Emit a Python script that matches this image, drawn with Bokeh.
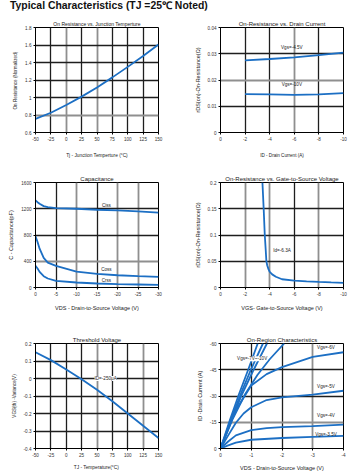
from bokeh.plotting import figure
from bokeh.models import Range1d, FixedTicker, Grid, Label, Div, CustomJSTickFormatter
from bokeh.layouts import column, row
from bokeh.embed import file_html
from bokeh.resources import INLINE

BLUE = "#1c6fc4"
FONT = "Liberation Sans"
DARK = "#1e1e1e"
GRAY = "#8f8f8f"

MAIN_TITLE = "Typical Characteristics (TJ =25\u2103 Noted)"

# ---- Panel 1: On Resistance vs. Junction Temperture
p1_temp = [-50, -25, 0, 25, 50, 75, 100, 125, 150]
p1_ron = [0.755, 0.826, 0.915, 1.01, 1.115, 1.23, 1.35, 1.475, 1.605]
p1_xticks = [-50, -25, 0, 25, 50, 75, 100, 125, 150]
p1_yticks = [0.6, 0.8, 1.0, 1.2, 1.4, 1.6, 1.8]

# ---- Panel 2: On-Resistance vs. Drain Current
p2_id = [-2, -4, -6, -8, -10]
p2_r45 = [0.0275, 0.0280, 0.0286, 0.0295, 0.0304]
p2_r10 = [0.0146, 0.0145, 0.0143, 0.0145, 0.0150]
p2_xticks = [0, -2, -4, -6, -8, -10]
p2_yticks = [0, 0.01, 0.02, 0.03, 0.04]

# ---- Panel 3: Capacitance
p3_vds = [0, -0.5, -1, -2, -3, -5, -10, -15, -20, -25, -30]
p3_ciss = [1327, 1300, 1276, 1240, 1225, 1210, 1200, 1185, 1175, 1160, 1140]
p3_coss = [780, 694, 592, 450, 380, 329, 243, 208, 187, 172, 162]
p3_crss = [329, 289, 238, 172, 137, 101, 76, 61, 51, 46, 41]
p3_xticks = [0, -5, -10, -15, -20, -25, -30]
p3_yticks = [0, 400, 800, 1200, 1600]

# ---- Panel 4: On-Resistance vs. Gate-to-Source Voltage
p4_vgs = [-3.41, -3.51, -3.6, -3.68, -3.73, -3.8, -3.9, -4.0, -4.2, -4.5, -5, -6, -7, -8, -9, -10]
p4_r = [0.2, 0.15, 0.1, 0.07, 0.05, 0.042, 0.035, 0.030, 0.025, 0.0205, 0.0157, 0.013, 0.0118, 0.0107, 0.0097, 0.0088]
p4_xticks = [0, -2, -4, -6, -8, -10]
p4_yticks = [0, 0.05, 0.1, 0.15, 0.2]

# ---- Panel 5: Threshold Voltage
p5_temp = [-50, -25, 0, 25, 50, 75, 100, 125, 150]
p5_dv = [0.15, 0.105, 0.052, -0.004, -0.064, -0.13, -0.2, -0.27, -0.34]
p5_xticks = [-50, -25, 0, 25, 50, 75, 100, 125, 150]
p5_yticks = [-0.4, -0.3, -0.2, -0.1, 0, 0.1, 0.2]

# ---- Panel 6: On-Region Characteristics
p6_v35 = [0, -0.25, -0.5, -1, -2, -3, -4]
p6_i35 = [0, -1.8, -3.3, -5.0, -6.0, -6.6, -7.2]
p6_v4 = [0, -0.25, -0.5, -1, -1.5, -2, -3, -4]
p6_i4 = [0, -4.0, -7.5, -10.5, -11.6, -12.2, -12.8, -13.6]
p6_v5 = [0, -0.25, -0.5, -0.75, -1, -1.5, -2, -3, -4]
p6_i5 = [0, -7.5, -14.7, -20, -23.6, -27.7, -29.2, -30.8, -33.0]
p6_v6 = [0, -0.25, -0.5, -1, -1.5, -2, -3, -4]
p6_i6 = [0, -11, -22.0, -36.0, -42.5, -46.5, -52.3, -55.0]
p6_v7 = [0, -0.4, -0.8, -1.2, -1.6, -2.07]
p6_i7 = [0, -17, -31, -42, -51, -60]
p6_v8 = [0, -0.35, -0.7, -1.05, -1.51]
p6_i8 = [0, -16, -31, -44, -60]
p6_v9 = [0, -0.35, -0.7, -1.0, -1.38]
p6_i9 = [0, -17, -33, -45.5, -60]
p6_v10 = [0, -0.3, -0.6, -0.9, -1.21]
p6_i10 = [0, -16, -31, -45, -60]
p6_xticks = [0, -1, -2, -3, -4]
p6_yticks = [0, -15, -30, -45, -60]

FMT = "return String(Number(tick.toFixed(4)));"


def make(title, xr, yr, xticks, yticks, xlabel, ylabel, left, right, top, bottom,
         fh, xdark, xgray, ydark, ygray, title_size="6px", xl_size="5.5px",
         yl_size="5.5px", tick_size="4.6px", xl_standoff=6):
    p = figure(frame_width=123, frame_height=fh,
               x_range=Range1d(*xr), y_range=Range1d(*yr),
               output_backend="svg", toolbar_location=None,
               min_border_left=left, min_border_right=right,
               min_border_top=top, min_border_bottom=bottom)
    p.title.text = title
    p.title.align = "center"
    p.title.text_font = FONT
    p.title.text_font_size = title_size
    p.title.text_font_style = "normal"
    p.title.text_color = "#222222"
    p.title.standoff = 2
    p.outline_line_color = "black"
    p.outline_line_width = 1
    p.outline_line_alpha = 1
    p.xgrid.visible = False
    p.ygrid.visible = False
    for ticks, col, w, dim in ((xdark, DARK, 1.3, 0), (xgray, GRAY, 1.8, 0),
                               (ydark, DARK, 1.3, 1), (ygray, GRAY, 1.8, 1)):
        if ticks:
            p.add_layout(Grid(dimension=dim, ticker=FixedTicker(ticks=ticks),
                              grid_line_color=col, grid_line_width=w))
    for ax, ticks, lab, lsize in ((p.xaxis[0], xticks, xlabel, xl_size),
                                  (p.yaxis[0], yticks, ylabel, yl_size)):
        ax.ticker = FixedTicker(ticks=ticks, minor_ticks=[])
        ax.formatter = CustomJSTickFormatter(code=FMT)
        ax.axis_label = lab
        ax.axis_label_text_font = FONT
        ax.axis_label_text_font_size = lsize
        ax.axis_label_text_font_style = "normal"
        ax.axis_label_text_color = "#222222"
        ax.major_label_text_font = FONT
        ax.major_label_text_font_size = tick_size
        ax.major_label_text_color = "#333333"
        ax.major_label_standoff = 2
        ax.major_tick_out = 2
        ax.major_tick_in = 0
        ax.minor_tick_out = 0
        ax.minor_tick_in = 0
        ax.axis_line_color = "black"
    p.xaxis[0].axis_label_standoff = xl_standoff
    p.yaxis[0].axis_label_standoff = 4
    return p


def label(p, x, y, text, bg=None, size="4.6px", align="center"):
    lb = Label(x=x, y=y, text=text, text_font=FONT, text_font_size=size,
               text_align=align, text_baseline="middle", text_color="#222222")
    if bg:
        lb.background_fill_color = bg
        lb.background_fill_alpha = 1
    p.add_layout(lb)


LW = 1.8

header = Div(text=MAIN_TITLE, width=350, height=10, margin=(0, 0, 0, 10),
             styles={"font-family": FONT, "font-size": "10.4px",
                     "font-weight": "bold", "color": "#111111",
                     "line-height": "11px", "white-space": "nowrap"})

# Panel 1
p1 = make("On Resistance vs. Junction Temperture", (-50, 150), (0.6, 1.8),
          p1_xticks, p1_yticks, "Tj - Junction Temperture (\u00b0C)",
          "On Resistance  (Normalized)", 35, 22, 17, 30, 105,
          [-25, 25, 75, 100, 125], [0, 50], [1.0, 1.2, 1.4, 1.6], [0.8],
          title_size="5px", xl_size="4.8px", yl_size="4.6px", xl_standoff=9)
p1.line(p1_temp, p1_ron, color=BLUE, line_width=LW)

# Panel 2
p2 = make("On-Resistance vs. Drain Current", (0, -10), (0, 0.04),
          p2_xticks, p2_yticks, "ID - Drain Current (A)",
          "rDS(on)-On-Resistance(\u03a9)", 40, 17, 17, 30, 105,
          [-2, -4, -8], [-6], [0.01, 0.03], [0.02], xl_size="4.6px", xl_standoff=9)
p2.line(p2_id, p2_r45, color=BLUE, line_width=LW)
p2.line(p2_id, p2_r10, color=BLUE, line_width=LW)
label(p2, -5.8, 0.0325, "Vgs=-4.5V")
label(p2, -5.8, 0.0182, "Vgs=-10V")

# Panel 3
p3 = make("Capacitance", (0, -30), (0, 1600), p3_xticks, p3_yticks,
          "VDS - Drain-to-Source Voltage (V)", "C - Capacitance(pF)",
          35, 22, 20, 26, 105, [-5, -15], [-10, -20, -25], [800, 1200], [400])
p3.line(p3_vds, p3_ciss, color=BLUE, line_width=LW)
p3.line(p3_vds, p3_coss, color=BLUE, line_width=LW)
p3.line(p3_vds, p3_crss, color=BLUE, line_width=LW)
label(p3, -17.3, 1250, "Ciss")
label(p3, -17.3, 268, "Coss")
label(p3, -17.3, 111, "Crss")

# Panel 4
p4 = make("On-Resistance vs. Gate-to-Source Voltage", (0, -10), (0, 0.2),
          p4_xticks, p4_yticks, "VGS- Gate-to-Source Voltage (V)",
          "rDS(on)-On-Resistance(\u03a9)", 40, 17, 20, 26, 105,
          [-6], [-2, -4, -8], [0.05, 0.1, 0.15], [])
p4.line(p4_vgs, p4_r, color=BLUE, line_width=LW)
label(p4, -5.0, 0.0696, "Id=-6.3A")

# Panel 5
p5 = make("Threshold Voltage", (-50, 150), (-0.4, 0.2), p5_xticks, p5_yticks,
          "TJ -  Temperature(\u00b0C)", "VGS(th) -Variance(V)",
          35, 22, 30, 22, 105, [-25, 0, 25, 75, 100], [50, 125],
          [-0.3, -0.2, -0.1, 0, 0.1], [], xl_size="4.8px", yl_size="4.6px",
          xl_standoff=5)
p5.line(p5_temp, p5_dv, color=BLUE, line_width=LW)
label(p5, 64, 0.0, "ID=-250\u03bcA", bg="white")

# Panel 6
p6 = make("On-Region Characteristics", (0, -4), (0, -60), p6_xticks, p6_yticks,
          "VDS - Drain-to-Source Voltage (V)", "ID -Drain Current (A)",
          40, 17, 30, 22, 105, [-1, -2], [-3], [-30, -45], [-15], xl_standoff=5)
for xs, ys in ((p6_v35, p6_i35), (p6_v4, p6_i4), (p6_v5, p6_i5), (p6_v6, p6_i6),
               (p6_v7, p6_i7), (p6_v8, p6_i8), (p6_v9, p6_i9), (p6_v10, p6_i10)):
    p6.line(xs, ys, color=BLUE, line_width=LW)
label(p6, -1.03, -51.3, "Vgs=-7V~-10V", bg="white")
label(p6, -3.43, -57.5, "Vgs=-6V")
label(p6, -3.43, -35.3, "Vgs=-5V")
label(p6, -3.43, -18.9, "Vgs=-4V")
label(p6, -3.43, -8.1, "Vgs=-3.5V")

layout = column(header, row(p1, p2), row(p3, p4), row(p5, p6))

with open("out.html", "w") as f:
    f.write(file_html(layout, INLINE))
